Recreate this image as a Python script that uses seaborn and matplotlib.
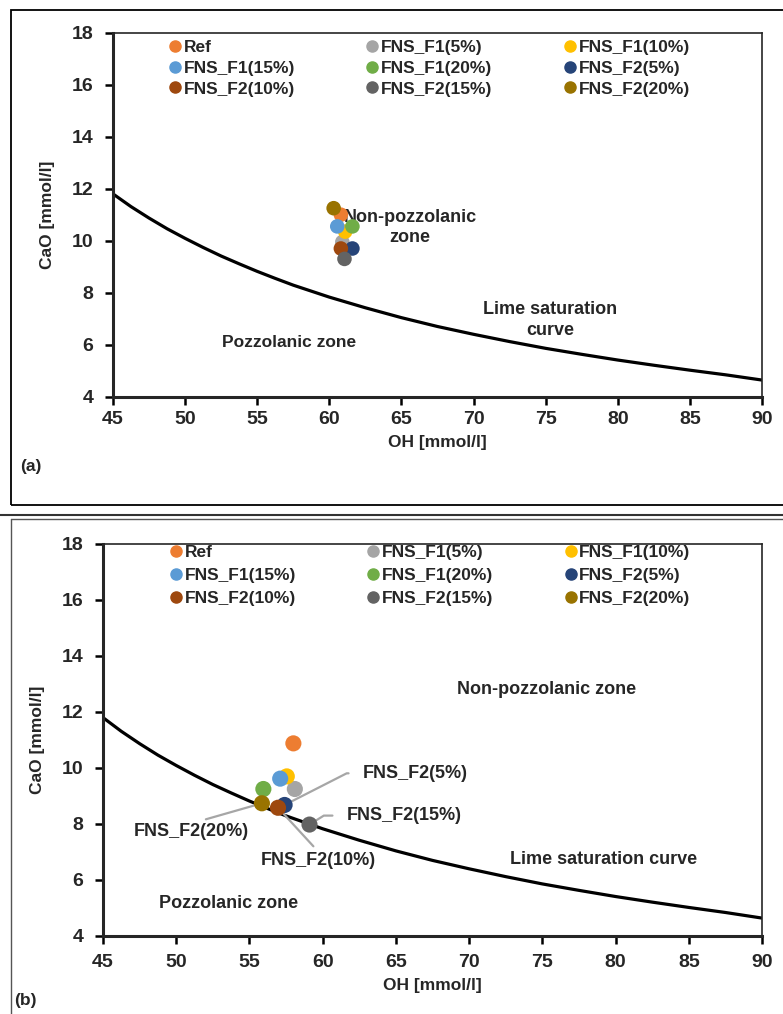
import numpy as np
import pandas as pd
import seaborn as sns
import matplotlib.pyplot as plt
from matplotlib.patches import Rectangle
from matplotlib.lines import Line2D

# Mezclas y colores (paleta tipo Excel)
mixes = ['Ref', 'FNS_F1(5%)', 'FNS_F1(10%)', 'FNS_F1(15%)', 'FNS_F1(20%)',
         'FNS_F2(5%)', 'FNS_F2(10%)', 'FNS_F2(15%)', 'FNS_F2(20%)']
colors = ['#ED7D31', '#A5A5A5', '#FFC000', '#5B9BD5', '#70AD47',
          '#264478', '#9E480E', '#636363', '#997300']

# Panel (a)
oh_a = [60.8, 60.9, 61.1, 60.55, 61.6, 61.6, 60.8, 61.05, 60.3]
cao_a = [11.0, 9.95, 10.35, 10.55, 10.55, 9.7, 9.7, 9.3, 11.25]

# Panel (b)
oh_b = [58.0, 58.1, 57.55, 57.1, 55.95, 57.4, 56.95, 59.1, 55.85]
cao_b = [10.88, 9.25, 9.7, 9.62, 9.25, 8.68, 8.58, 7.98, 8.74]

# Curva de saturación de cal
curve_oh = [45, 46.25, 47.5, 48.75, 50, 51.25, 52.5, 53.75, 55, 56.25, 57.5,
            58.75, 60, 62.5, 65, 67.5, 70, 72.5, 75, 77.5, 80, 82.5, 85, 87.5, 90]
curve_cao = [11.8, 11.31, 10.87, 10.46, 10.09, 9.74, 9.41, 9.11, 8.82, 8.55,
             8.29, 8.06, 7.83, 7.42, 7.04, 6.7, 6.4, 6.12, 5.86, 5.63, 5.41,
             5.21, 5.02, 4.84, 4.64]

# Etiquetas con guía en el panel (b)
callouts = ['FNS_F2(5%)', 'FNS_F2(15%)', 'FNS_F2(20%)', 'FNS_F2(10%)']
callout_oh = [62.75, 61.65, 51.06, 59.7]
callout_cao = [9.81, 8.30, 7.72, 6.71]

df_a = pd.DataFrame({'OH': oh_a, 'CaO': cao_a, 'mix': mixes})
df_b = pd.DataFrame({'OH': oh_b, 'CaO': cao_b, 'mix': mixes})
df_curve = pd.DataFrame({'OH': curve_oh, 'CaO': curve_cao})
palette = dict(zip(mixes, colors))

sns.set_style('ticks')
plt.rcParams['font.family'] = ['Liberation Sans', 'DejaVu Sans']
plt.rcParams['font.weight'] = 'bold'

fig = plt.figure(figsize=(7.83, 10.14), dpi=100)
ax_a = fig.add_axes([113 / 783, 1 - 396.7 / 1014, 649 / 783, 364 / 1014])
ax_b = fig.add_axes([103 / 783, 1 - 936 / 1014, 659 / 783, 392 / 1014])

# orden de la leyenda (3 columnas, se llena por columnas)
legend_order = [0, 3, 6, 1, 4, 7, 2, 5, 8]


def draw_panel(ax, df, tick_size, xpad, lab_pad, leg_x, leg_y, leg_sp, msize):
    sns.lineplot(data=df_curve, x='OH', y='CaO', color='black', lw=2.3, ax=ax)
    sns.scatterplot(data=df, x='OH', y='CaO', hue='mix', palette=palette,
                    s=msize, edgecolor='none', legend=False, ax=ax, zorder=5)
    ax.set_xlim(45, 90)
    ax.set_ylim(4, 18)
    ax.set_xticks(range(45, 91, 5))
    ax.set_yticks(range(4, 19, 2))
    for lab in ax.get_xticklabels() + ax.get_yticklabels():
        lab.set_fontsize(tick_size)
        lab.set_fontweight('bold')
    ax.tick_params(length=6, width=1.8, color='black', pad=8)
    ax.tick_params(axis='x', pad=xpad)
    for s in ['left', 'bottom']:
        ax.spines[s].set_linewidth(2.2)
    for s in ['top', 'right']:
        ax.spines[s].set_visible(True)
        ax.spines[s].set_linewidth(1.2)
    ax.set_xlabel('OH [mmol/l]', fontsize=12.5, fontweight='bold', labelpad=lab_pad)
    ax.set_ylabel('CaO [mmol/l]', fontsize=12.5, fontweight='bold', labelpad=12)
    handles = [Line2D([], [], marker='o', ls='none', color=colors[i], markersize=8)
               for i in legend_order]
    labels = [mixes[i] for i in legend_order]
    ax.legend(handles, labels, ncol=3, loc='upper left', frameon=False,
              bbox_to_anchor=(leg_x, leg_y), prop={'size': 12.5, 'weight': 'bold'},
              handlelength=0.5, handletextpad=0.25, columnspacing=4.2,
              labelspacing=leg_sp, borderaxespad=0, borderpad=0)


draw_panel(ax_a, df_a, 14, 4, 5, 0.089, 0.98, 0.32, 110)
draw_panel(ax_b, df_b, 14, 7, 5, 0.104, 0.997, 0.45, 135)

# textos panel (a)
ax_a.text(65.6, 10.5, 'Non-pozzolanic\nzone', ha='center', va='center',
          fontsize=13, fontweight='bold', linespacing=1.25)
ax_a.text(75.3, 6.95, 'Lime saturation\ncurve', ha='center', va='center',
          fontsize=13, fontweight='bold', linespacing=1.25)
ax_a.text(57.2, 6.1, 'Pozzolanic zone', ha='center', va='center',
          fontsize=12.5, fontweight='bold')

# textos panel (b)
ax_b.text(75.3, 12.8, 'Non-pozzolanic zone', ha='center', va='center',
          fontsize=13, fontweight='bold')
ax_b.text(79.2, 6.75, 'Lime saturation curve', ha='center', va='center',
          fontsize=13, fontweight='bold')
ax_b.text(53.6, 5.15, 'Pozzolanic zone', ha='center', va='center',
          fontsize=13, fontweight='bold')

lead = dict(arrowstyle='-', color='#A6A6A6', lw=1.6, shrinkB=3)
targets = {m: (o, c) for m, o, c in zip(mixes, oh_b, cao_b)}
for i, name in enumerate(callouts):
    xy = targets[name]
    pos = (callout_oh[i], callout_cao[i])
    if i < 2:
        props = dict(lead, connectionstyle='angle,angleA=0,angleB=%d,rad=0' % (27 if i == 0 else 32),
                     relpos=(0, 0.5), shrinkA=8)
        ax_b.annotate(name, xy=xy, xytext=pos, ha='left', va='center',
                      fontsize=13, fontweight='bold', arrowprops=props, zorder=3)
    else:
        props = dict(lead, relpos=(0.5, 1), shrinkA=2)
        ax_b.annotate(name, xy=xy, xytext=pos, ha='center', va='center',
                      fontsize=13, fontweight='bold', arrowprops=props, zorder=3)

fig.text(20 / 783, 1 - 466 / 1014, '(a)', fontsize=12.5, fontweight='bold', va='center')
fig.text(14 / 783, 1 - 1001 / 1014, '(b)', fontsize=12.5, fontweight='bold', va='center')

# marcos de la figura
fig.patches.append(Rectangle((11 / 783, 1 - 505 / 1014), 1.0, 495 / 1014,
                             transform=fig.transFigure, fill=False, lw=1.3,
                             color='black'))
fig.lines.append(Line2D([0, 1], [1 - 515 / 1014] * 2, transform=fig.transFigure,
                        color='#333333', lw=1.5))
fig.lines.append(Line2D([11 / 783, 1], [1 - 519 / 1014] * 2, transform=fig.transFigure,
                        color='#555555', lw=1.0))
fig.lines.append(Line2D([11 / 783] * 2, [0, 1 - 519 / 1014], transform=fig.transFigure,
                        color='#555555', lw=1.0))

fig.savefig('out.png', dpi=100)
